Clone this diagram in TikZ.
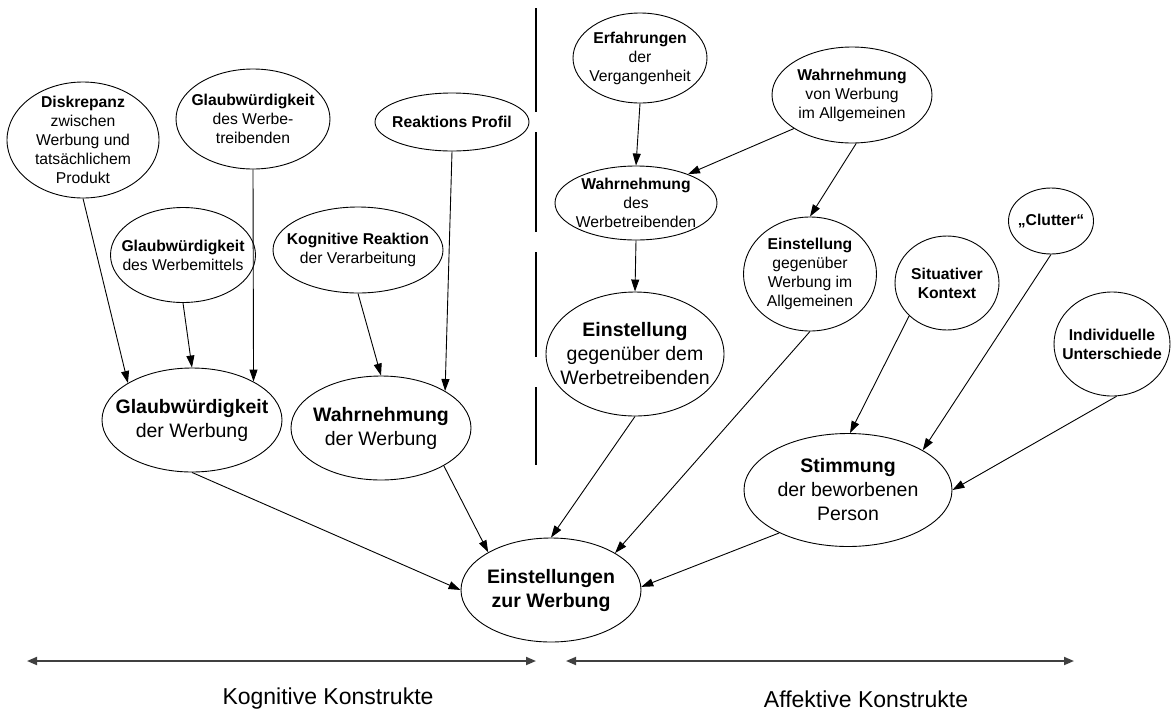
\documentclass[tikz,border=0pt]{standalone}
\usepackage{fontspec}
\setmainfont{Liberation Sans}
\usetikzlibrary{arrows.meta,shapes.geometric}
\newcommand\smfont{\fontsize{15.7}{19}\selectfont}
\newcommand\lgfont{\fontsize{19.5}{24}\selectfont}
\newcommand\lbfont{\fontsize{23}{27}\selectfont}
\begin{document}
\begin{tikzpicture}[x=1pt,y=-1pt,
  ell/.style n args={2}{draw, ellipse, inner sep=0pt,
    line width=0.9pt, minimum width=#1pt, minimum height=#2pt},
  sm/.style={font=\smfont, align=center, inner sep=0pt},
  lg/.style={font=\lgfont, align=center, inner sep=0pt},
  arr/.style={line width=0.9pt, -{Triangle[length=12pt,width=8pt]}},
  divider/.style={line width=2pt},
  biarr/.style={line width=1.8pt, black!75, {Triangle[length=10pt,width=8pt]}-{Triangle[length=10pt,width=8pt]}},
  lbl/.style={font=\lbfont}]
\useasboundingbox (0,0) rectangle (1171,713);
% ellipses (fixed sizes)
\node[ell={152}{116}] (disk) at (83,140) {};
\node[ell={154}{100}] (gwt) at (253,119) {};
\node[ell={154}{58}] (rp) at (452,122) {};
\node[ell={145}{95}] (gwm) at (183,255) {};
\node[ell={170}{86}] (kr) at (358,250) {};
\node[ell={180}{104}] (gdw) at (192,420) {};
\node[ell={180}{104}] (wdw) at (381,428) {};
\node[ell={180}{104}] (ezw) at (551,590) {};
\node[ell={134}{90}] (erf) at (640,58) {};
\node[ell={160}{96}] (wvw) at (852,95) {};
\node[ell={162}{74}] (wdt) at (636,203) {};
\node[ell={178}{124}] (edt) at (635,354) {};
\node[ell={133}{114}] (ega) at (810,274) {};
\node[ell={104}{94}] (sit) at (947,283) {};
\node[ell={85}{66}] (clu) at (1051,221) {};
\node[ell={116}{104}] (ind) at (1112,344) {};
\node[ell={208}{113}] (sti) at (848,490) {};
% texts
\node[sm] (diskT) at (disk) {\textbf{Diskrepanz}\\zwischen\\Werbung und\\tatsächlichem\\Produkt};
\node[sm] (gwtT) at (gwt) {\textbf{Glaubwürdigkeit}\\des Werbe-\\treibenden};
\node[sm] (rpT) at (rp) {\textbf{Reaktions Profil}};
\node[sm] (gwmT) at (gwm) {\textbf{Glaubwürdigkeit}\\des Werbemittels};
\node[sm] (krT) at (kr) {\textbf{Kognitive Reaktion}\\der Verarbeitung};
\node[lg] (gdwT) at (gdw) {\textbf{Glaubwürdigkeit}\\der Werbung};
\node[lg] (wdwT) at (wdw) {\textbf{Wahrnehmung}\\der Werbung};
\node[lg] (ezwT) at (ezw) {\textbf{Einstellungen}\\\textbf{zur Werbung}};
\node[sm] (erfT) at (erf) {\textbf{Erfahrungen}\\der\\Vergangenheit};
\node[sm] (wvwT) at (wvw) {\textbf{Wahrnehmung}\\von Werbung\\im Allgemeinen};
\node[sm] (wdtT) at (wdt) {\textbf{Wahrnehmung}\\des\\Werbetreibenden};
\node[lg] (edtT) at (edt) {\textbf{Einstellung}\\gegenüber dem\\Werbetreibenden};
\node[sm] (egaT) at (ega) {\textbf{Einstellung}\\gegenüber\\Werbung im\\Allgemeinen};
\node[sm] (sitT) at (sit) {\textbf{Situativer}\\\textbf{Kontext}};
\node[sm] (cluT) at (clu) {\textbf{„Clutter“}};
\node[sm] (indT) at (ind) {\textbf{Individuelle}\\\textbf{Unterschiede}};
\node[lg] (stiT) at (sti) {\textbf{Stimmung}\\der beworbenen\\Person};
% connectors
\draw[arr] (disk.south) -- (gdw.150);
\draw[arr] (gwm.south) -- (gdw.north);
\draw[arr] (gwt.south) -- (gdw.32);
\draw[arr] (kr.south) -- (wdw.north);
\draw[arr] (rp.south) -- (wdw.30);
\draw[arr] (gdw.south) -- (ezw.west);
\draw[arr] (wdw.-31) -- (ezw.149);
\draw[arr] (edt.south) -- (ezw.north);
\draw[arr] (ega.south) -- (ezw.30);
\draw[arr] (sti.212) -- (ezw.2);
\draw[arr] (erf.south) -- (wdt.north);
\draw[arr] (wvw.210) -- (wdt.29);
\draw[arr] (wvw.-85) -- (ega.north);
\draw[arr] (wdt.south) -- (edt.north);
\draw[arr] (sit.221) -- (sti.88);
\draw[arr] (clu.south) -- (sti.28);
\draw[arr] (ind.-85) -- (sti.east);
% dividers
\draw[divider] (536,8) -- (536,112);
\draw[divider] (536,132) -- (536,232);
\draw[divider] (536,252) -- (536,357);
\draw[divider] (536,387) -- (536,465);
% bottom ranges
\coordinate (k1) at (27,661);
\coordinate (k2) at (536,661);
\coordinate (a1) at (566,661);
\coordinate (a2) at (1074,661);
\draw[biarr] (k1) -- (k2);
\draw[biarr] (a1) -- (a2);
\node[lbl] (kl) at (328,699) {Kognitive Konstrukte};
\node[lbl] (al) at (866,699) {Affektive Konstrukte};
\end{tikzpicture}
\end{document}
